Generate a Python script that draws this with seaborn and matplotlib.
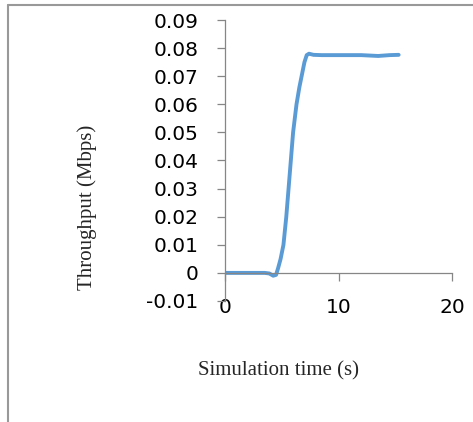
import pandas as pd
import matplotlib.pyplot as plt
import seaborn as sns
from matplotlib.lines import Line2D

# values
time_s = [0, 1, 2, 3, 3.5, 3.9, 4.25, 4.5, 4.7, 4.9, 5.15, 5.4, 5.6, 5.8,
          6.0, 6.3, 6.55, 6.75, 7.0, 7.2, 7.4, 7.8, 8.5, 10, 12, 13.5, 14.5,
          15.3]
throughput = [0, 0, 0, 0, 0, -0.0002, -0.001, -0.0007, 0.002, 0.005, 0.01,
              0.02, 0.03, 0.04, 0.05, 0.06, 0.066, 0.07, 0.075, 0.0775, 0.078,
              0.0776, 0.0775, 0.0775, 0.0775, 0.0772, 0.0775, 0.0776]
x_ticks = [0, 10, 20]
y_ticks = [-0.01, 0, 0.01, 0.02, 0.03, 0.04, 0.05, 0.06, 0.07, 0.08, 0.09]

sns.set_style('white')
plt.rcParams['font.family'] = ['DejaVu Sans']

df = pd.DataFrame({'t': time_s, 'thr': throughput})

fig = plt.figure(figsize=(4.73, 4.22), dpi=100)
ax = fig.add_axes([225 / 473, 1 - 301 / 422, 227 / 473, 281 / 422])

sns.lineplot(data=df, x='t', y='thr', ax=ax, color='#5B9BD5', linewidth=2.8)

ax.set_xlim(0, 20)
ax.set_ylim(-0.01, 0.09)
ax.set_xticks(x_ticks)
ax.set_yticks(y_ticks)
ax.set_xticklabels([str(v) for v in x_ticks])
ax.set_yticklabels(['%g' % v if v != 0 else '0' for v in y_ticks])

ax.spines['top'].set_visible(False)
ax.spines['right'].set_visible(False)
ax.spines['bottom'].set_position(('data', 0))
for s in ['left', 'bottom']:
    ax.spines[s].set_color('#868686')
    ax.spines[s].set_linewidth(0.9)

ax.tick_params(axis='both', direction='out', length=6, width=0.9,
               color='#868686', labelsize=14.5, labelcolor='black')
ax.tick_params(axis='y', left=True, pad=13)
ax.tick_params(axis='x', bottom=True, pad=12)

ax.set_xlabel('Simulation time (s)', family='Liberation Serif', fontsize=15)
ax.set_ylabel('Throughput (Mbps)', family='Liberation Serif', fontsize=15)
ax.xaxis.set_label_coords((278 - 225) / 227, -(361 - 301) / 281)
ax.yaxis.set_label_coords(-(225 - 97) / 227, (301 - 207) / 281)

# outer frame of the original picture
frame_y = 1 - 4.5 / 422
frame_x = 8 / 473
fig.add_artist(Line2D([frame_x, 1], [frame_y, frame_y], color='#999999', lw=1.5,
                      transform=fig.transFigure, zorder=10))
fig.add_artist(Line2D([frame_x, frame_x], [0, frame_y], color='#999999', lw=1.5,
                      transform=fig.transFigure, zorder=10))

fig.savefig('out.png', dpi=100)
